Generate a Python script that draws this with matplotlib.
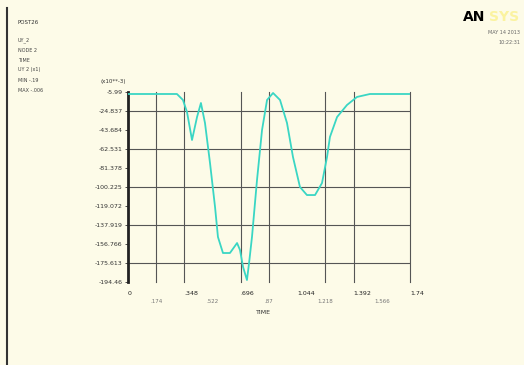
import numpy as np
import matplotlib.pyplot as plt
from matplotlib.lines import Line2D

# time history (TIME vs value, x10**-3)
time = [0.0, 0.278, 0.302, 0.339, 0.364, 0.395, 0.426, 0.450, 0.475, 0.506,
        0.537, 0.555, 0.586, 0.629, 0.673, 0.691, 0.710, 0.734, 0.747, 0.765,
        0.796, 0.827, 0.858, 0.895, 0.938, 0.981, 1.018, 1.061, 1.104, 1.154,
        1.197, 1.228, 1.246, 1.290, 1.351, 1.413, 1.493, 1.74]
value = [-7.97, -7.97, -7.97, -13.9, -25.8, -53.6, -30.8, -16.9, -36.7, -76.4,
         -120.0, -149.8, -165.7, -165.7, -155.8, -162.7, -179.6, -192.5, -175.6, -149.8,
         -93.3, -43.7, -13.9, -6.98, -13.9, -36.7, -70.5, -100.2, -108.2, -108.2,
         -96.3, -70.5, -50.6, -30.8, -18.9, -10.9, -7.97, -7.97]

x_ticks = [0, .174, .348, .522, .696, .87, 1.044, 1.218, 1.392, 1.566, 1.74]
x_labels = ['0', '.174', '.348', '.522', '.696', '.87', '1.044', '1.218', '1.392', '1.566', '1.74']
y_ticks = [-5.99, -24.837, -43.684, -62.531, -81.378, -100.225, -119.072,
           -137.919, -156.766, -175.613, -194.46]
y_labels = ['-5.99', '-24.837', '-43.684', '-62.531', '-81.378', '-100.225',
            '-119.072', '-137.919', '-156.766', '-175.613', '-194.46']
legend_lines = ['UY_2', 'NODE 2', 'TIME', 'UY 2 (x1)', 'MIN -.19', 'MAX -.006']

W, H = 524, 365
bg = '#fdfbe8'
fig = plt.figure(figsize=(W / 100, H / 100), dpi=100, facecolor=bg)


def fx(px):
    return px / W


def fy(py):
    return 1 - py / H


# frame line on the left
fig.add_artist(Line2D([fx(7), fx(7)], [fy(8), fy(365)], color='#333333', lw=1.5))

# legend block
fig.text(fx(17), fy(23), 'POST26', fontsize=4, color='#333333', va='center')
for i, s in enumerate(legend_lines):
    fig.text(fx(18), fy(40 + 10 * i), s, fontsize=3.5, color='#444444', va='center')

# logo
fig.text(fx(463), fy(17), 'AN', fontsize=10, fontweight='bold', color='black', va='center')
fig.text(fx(489), fy(17), 'SYS', fontsize=10, fontweight='bold', color='#fbf3a0', va='center')
fig.text(fx(520), fy(33), 'MAY 14 2013', fontsize=3.5, color='#666666', ha='right', va='center')
fig.text(fx(520), fy(42), '10:22:31', fontsize=3.5, color='#666666', ha='right', va='center')

left, right, top, bottom = 128, 410, 92, 282
ax = fig.add_axes([fx(left), fy(bottom), (right - left) / W, (bottom - top) / H])
ax.set_facecolor(bg)
ax.set_xlim(x_ticks[0], x_ticks[-1])
ax.set_ylim(y_ticks[-1], y_ticks[0])

# grid lines as seen in the reference
for i in [1, 2, 4, 5, 7, 8, 10]:
    ax.axvline(x_ticks[i], color='#555555', lw=0.8, zorder=1, clip_on=False)
for i in [1, 3, 5, 7, 9]:
    ax.axhline(y_ticks[i], color='#555555', lw=0.8, zorder=1)

ax.plot(time, value, color='#3ad6c4', lw=1.3, zorder=3)

for s in ['top', 'right', 'bottom']:
    ax.spines[s].set_visible(False)
ax.spines['left'].set_linewidth(2)
ax.spines['left'].set_color('#222222')

ax.set_yticks(y_ticks)
ax.set_yticklabels(y_labels, fontsize=4.5, color='#333333')
ax.tick_params(axis='y', length=2, width=0.6, pad=2, colors='#333333')
ax.set_xticks([])

for i, (t, lab) in enumerate(zip(x_ticks, x_labels)):
    if i % 2 == 0:
        ax.text(t, -0.06, lab, transform=ax.get_xaxis_transform(), fontsize=4.5,
                color='#222222', ha='left', va='center')
    else:
        ax.text(t, -0.105, lab, transform=ax.get_xaxis_transform(), fontsize=4,
                color='#777777', ha='center', va='center')

fig.text(fx(263), fy(312), 'TIME', fontsize=4.5, color='#333333', ha='center', va='center')
fig.text(fx(126), fy(81), '(x10**-3)', fontsize=4, color='#333333', ha='right', va='center')

fig.savefig('out.png', dpi=100, facecolor=bg)
